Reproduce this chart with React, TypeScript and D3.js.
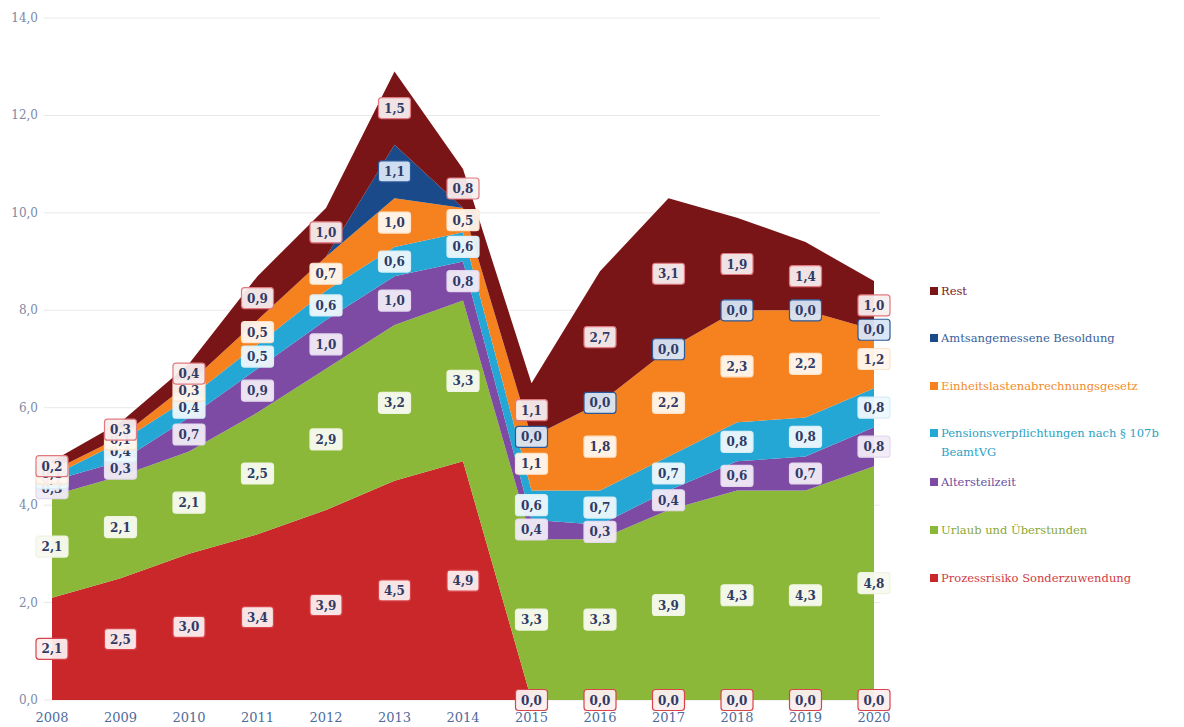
import React from 'react';
import * as d3 from 'd3';

const years = ['2008', '2009', '2010', '2011', '2012', '2013', '2014', '2015', '2016', '2017', '2018', '2019', '2020'];

// series values in billions, bottom to top; null = no label shown
const prozessrisiko = [2.1, 2.5, 3.0, 3.4, 3.9, 4.5, 4.9, 0.0, 0.0, 0.0, 0.0, 0.0, 0.0];
const urlaub = [2.1, 2.1, 2.1, 2.5, 2.9, 3.2, 3.3, 3.3, 3.3, 3.9, 4.3, 4.3, 4.8];
const altersteilzeit = [0.3, 0.3, 0.7, 0.9, 1.0, 1.0, 0.8, 0.4, 0.3, 0.4, 0.6, 0.7, 0.8];
const pensionen = [0.1, 0.4, 0.4, 0.5, 0.6, 0.6, 0.6, 0.6, 0.7, 0.7, 0.8, 0.8, 0.8];
const einheitslasten = [0.1, 0.1, 0.3, 0.5, 0.7, 1.0, 0.5, 1.1, 1.8, 2.2, 2.3, 2.2, 1.2];
const besoldung = [null, null, null, null, null, 1.1, null, 0.0, 0.0, 0.0, 0.0, 0.0, 0.0];
const rest = [0.2, 0.3, 0.4, 0.9, 1.0, 1.5, 0.8, 1.1, 2.7, 3.1, 1.9, 1.4, 1.0];

const yTicks = [0, 2, 4, 6, 8, 10, 12, 14];

const series = [
  { key: 'red', name: 'Prozessrisiko Sonderzuwendung', values: prozessrisiko, fill: '#c9272a', text: '#d23b45', box: '#fbeeee', border: '#d9444a' },
  { key: 'green', name: 'Urlaub und Überstunden', values: urlaub, fill: '#8cb83a', text: '#8aa83a', box: '#f8faf1', border: '#eef4e0' },
  { key: 'purple', name: 'Altersteilzeit', values: altersteilzeit, fill: '#7d4ba3', text: '#6b4e9e', box: '#f1ebf7', border: '#e3d8ee' },
  { key: 'cyan', name: 'Pensionsverpflichtungen nach § 107b|BeamtVG', values: pensionen, fill: '#25a7d6', text: '#2aa2c4', box: '#eef8fc', border: '#d6eef8' },
  { key: 'orange', name: 'Einheitslastenabrechnungsgesetz', values: einheitslasten, fill: '#f5821f', text: '#f28a28', box: '#fff7ef', border: '#fde3c8' },
  { key: 'blue', name: 'Amtsangemessene Besoldung', values: besoldung, fill: '#1b4a8a', text: '#3a5f9c', box: '#d8e6f6', border: '#2c5a99' },
  { key: 'rest', name: 'Rest', values: rest, fill: '#7a1517', text: '#7b1a1c', box: '#f8eeee', border: '#e07a80' },
];

const fmt = (v: number) => d3.format('.1f')(v).replace('.', ',');

export default function App() {
  const x = d3.scalePoint<string>().domain(years).range([52, 874]);
  const y = d3.scaleLinear().domain([0, 14]).range([700, 18]);

  const table = years.map((yr, i) => {
    const row: any = { year: yr };
    series.forEach(s => { row[s.key] = s.values[i] ?? 0; });
    return row;
  });
  const stacked = d3.stack<any>().keys(series.map(s => s.key))(table);

  const area = d3.area<any>()
    .x(d => x(d.data.year) as number)
    .y0(d => y(d[0]))
    .y1(d => y(d[1]))
    .curve(d3.curveLinear);

  const legendY = [578, 530, 482, 433, 386, 338, 291];

  return (
    <svg width={1184} height={727} style={{ position: 'absolute', top: 0, left: 0, display: 'block' }}>
      {yTicks.map(t => (
        <g key={t}>
          <line x1={44} x2={880} y1={y(t)} y2={y(t)} stroke="#e8e8e8" strokeWidth={1} />
          <text x={38} y={y(t) + 4} textAnchor="end" fontFamily="DejaVu Serif" fontSize={12} fill="#7d8aa6">{fmt(t)}</text>
        </g>
      ))}
      {stacked.map((layer, li) => (
        <path key={layer.key} d={area(layer) as string} fill={series[li].fill} />
      ))}
      {years.map(yr => (
        <text key={yr} x={x(yr)} y={722} textAnchor="middle" fontFamily="DejaVu Serif" fontSize={13} fill="#4f6b9c">{yr}</text>
      ))}
      {stacked.map((layer, li) => {
        const s = series[li];
        return (
          <g key={'lab' + layer.key}>
            {layer.map((d, i) => {
              const v = s.values[i];
              if (v === null || v === undefined) return null;
              const cx = x(years[i]) as number;
              const cy = y((d[0] + d[1]) / 2);
              return (
                <g key={i} transform={`translate(${cx},${cy})`}>
                  <rect x={-16} y={-10.5} width={32} height={21} rx={3} fill={s.box} fillOpacity={0.95} stroke={s.border} strokeWidth={1.2} />
                  <text y={4.5} textAnchor="middle" fontFamily="DejaVu Serif" fontWeight="bold" fontSize={12} fill="#2f3b66">{fmt(v)}</text>
                </g>
              );
            })}
          </g>
        );
      })}
      {series.map((s, i) => {
        const lines = s.name.split('|');
        return (
          <g key={'leg' + s.key} transform={`translate(930,${legendY[i]})`}>
            <rect x={0} y={-4} width={8} height={8} fill={s.fill} />
            {lines.map((ln, j) => (
              <text key={j} x={11} y={4 + j * 19} fontFamily="DejaVu Serif" fontSize={11.5} fill={s.text}>{ln}</text>
            ))}
          </g>
        );
      })}
    </svg>
  );
}
